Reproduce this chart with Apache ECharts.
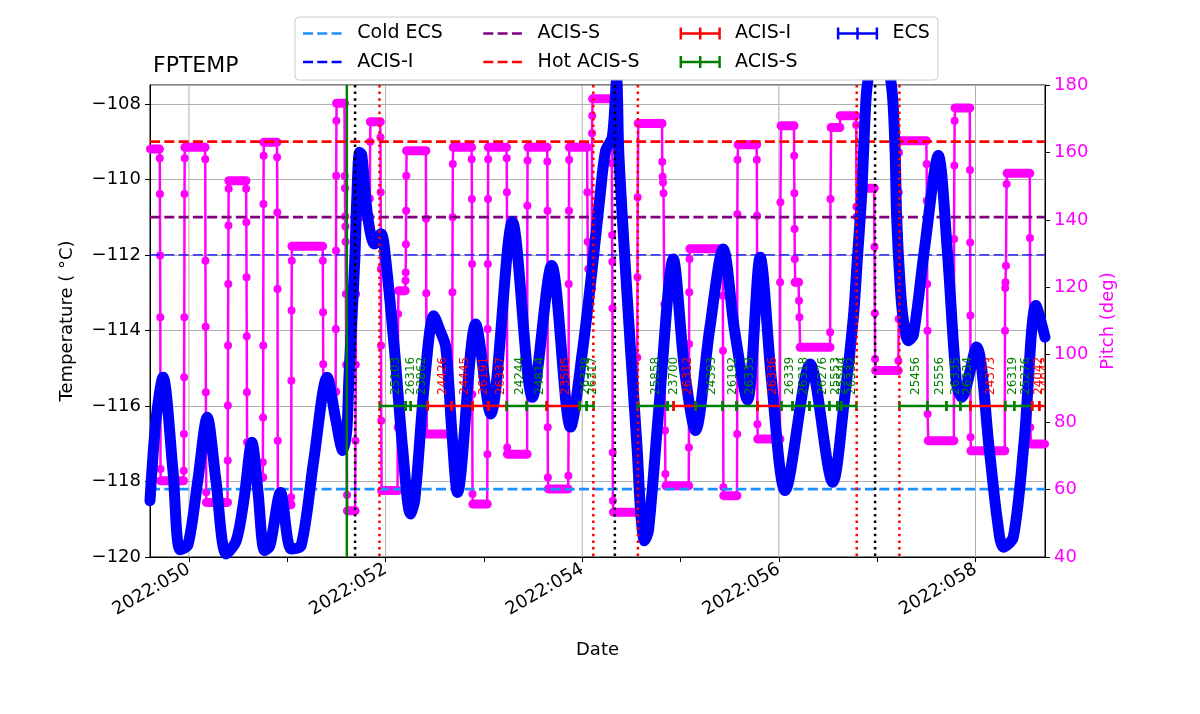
<!DOCTYPE html>
<html><head><meta charset="utf-8">
<script src="https://cdn.jsdelivr.net/npm/echarts@6/dist/echarts.min.js"></script>
<style>html,body{margin:0;padding:0;background:#fff}#c{width:1200px;height:714px}</style>
</head><body><div id="c"></div>
<script>
// ---------------- DATA ----------------
const chartTitle = 'FPTEMP';
const xRange = [49.604, 58.707];            // day of year 2022
const yearLabel = '2022';
const tickDays = [50, 51, 52, 53, 54, 55, 56, 57, 58];
const labelDays = [50, 52, 54, 56, 58];

// FPTEMP (deg C) samples [day, temp]
const tempPoints = [
 [49.604,-118.51],[49.665,-116.37],[49.736,-115.24],[49.837,-117.70],[49.909,-119.81],[49.990,-119.68],
 [50.091,-117.96],[50.186,-116.30],[50.274,-117.96],[50.379,-119.92],[50.481,-119.57],[50.559,-118.49],
 [50.640,-116.96],[50.701,-118.23],[50.769,-119.83],[50.823,-119.71],[50.932,-118.29],[51.040,-119.79],
 [51.141,-119.70],[51.270,-117.43],[51.406,-115.24],[51.494,-116.37],[51.565,-117.18],[51.606,-116.64],
 [51.626,-115.31],[51.657,-113.72],[51.687,-112.13],[51.707,-110.54],[51.735,-109.28],[51.758,-109.35],
 [51.819,-111.00],[51.887,-111.71],[51.954,-111.44],[52.002,-112.13],[52.091,-114.53],[52.175,-117.17],
 [52.253,-118.86],[52.297,-118.49],[52.398,-115.31],[52.490,-113.61],[52.551,-113.99],[52.612,-114.44],
 [52.673,-116.64],[52.731,-118.29],[52.917,-113.83],[53.069,-116.21],[53.290,-111.13],[53.493,-115.77],
 [53.689,-112.28],[53.882,-116.56],[54.004,-114.52],[54.103,-112.33],[54.177,-110.54],[54.238,-109.24],
 [54.306,-108.88],[54.350,-107.36],[54.371,-109.22],[54.408,-111.00],[54.492,-114.53],[54.560,-117.18],
 [54.593,-118.75],[54.634,-119.57],[54.675,-119.28],[54.787,-115.84],[54.926,-112.11],[55.041,-115.05],
 [55.152,-116.65],[55.295,-113.99],[55.434,-111.84],[55.549,-113.99],[55.681,-115.84],[55.810,-112.06],
 [55.925,-115.31],[56.064,-118.24],[56.318,-114.89],[56.548,-118.02],[56.667,-115.84],[56.758,-113.65],
 [56.798,-112.13],[56.843,-110.38],[56.877,-108.35],[56.901,-107.47],[57.023,-105.80],[57.147,-107.56],
 [57.182,-109.24],[57.198,-111.00],[57.233,-112.77],[57.266,-113.72],[57.317,-114.27],[57.368,-114.12],
 [57.480,-111.87],[57.622,-109.37],[57.713,-111.87],[57.808,-115.42],[57.859,-115.77],[58.011,-114.44],
 [58.141,-117.17],[58.222,-119.02],[58.283,-119.74],[58.384,-119.48],[58.496,-116.90],[58.615,-113.34],
 [58.707,-114.18]
];

// Pitch (deg) samples [day, pitch]
const pitchPoints = [
 [49.604,161.0],[49.700,161.0],[49.703,158.3],[49.705,147.7],[49.707,129.4],[49.709,111.1],[49.711,66.1],
 [49.713,62.6],[49.945,62.6],
 [49.947,65.6],[49.949,76.5],[49.951,93.3],[49.953,111.1],[49.955,147.7],[49.957,158.3],
 [49.959,161.5],[50.164,161.5],
 [50.166,158.0],[50.168,127.9],[50.170,108.3],[50.172,88.9],[50.174,71.5],[50.176,59.2],
 [50.178,56.2],[50.392,56.2],
 [50.394,68.6],[50.396,84.9],[50.398,102.7],[50.400,121.0],[50.402,138.3],[50.404,149.2],
 [50.406,151.6],[50.580,151.6],
 [50.582,149.2],[50.584,139.3],[50.586,123.0],[50.588,105.5],[50.590,88.9],[50.592,74.0],
 [50.594,63.6],[50.750,63.6],
 [50.752,68.1],[50.754,81.4],[50.756,102.7],[50.758,144.7],[50.760,159.0],
 [50.762,163.0],[50.895,163.0],
 [50.897,158.6],[50.899,142.2],[50.901,119.5],[50.903,74.5],[50.905,58.7],
 [50.907,55.5],[51.038,55.5],
 [51.040,57.7],[51.042,92.3],[51.044,113.1],[51.046,127.9],
 [51.048,132.2],[51.360,132.2],
 [51.362,127.9],[51.364,112.6],[51.366,97.2],[51.368,91.3],
 [51.370,89.0],[51.492,89.0],
 [51.494,107.6],[51.496,130.8],[51.498,153.1],[51.500,169.4],
 [51.502,174.6],[51.582,174.6],
 [51.585,153.0],[51.587,149.4],[51.589,141.0],[51.591,138.0],[51.593,133.5],[51.596,118.0],[51.600,97.0],[51.604,80.6],[51.608,58.4],
 [51.612,53.7],[51.690,53.7],
 [51.694,74.5],[51.697,97.0],[51.700,118.0],[51.703,137.0],
 [51.706,141.0],[51.836,141.0],
 [51.840,146.3],[51.843,163.2],
 [51.846,169.1],[51.946,169.1],
 [51.948,164.5],[51.950,148.2],[51.952,125.4],[51.954,102.7],[51.956,80.4],
 [51.960,59.7],[52.122,59.7],
 [52.124,78.5],[52.127,112.1],
 [52.132,119.0],[52.200,119.0],
 [52.203,122.0],[52.205,124.4],[52.207,132.8],[52.209,142.7],[52.211,153.1],
 [52.214,160.5],[52.410,160.5],
 [52.412,140.3],[52.414,118.2],
 [52.420,76.5],[52.676,76.5],
 [52.680,118.5],[52.682,140.8],[52.684,156.6],
 [52.688,161.5],[52.874,161.5],
 [52.876,158.0],[52.878,146.2],[52.880,126.9],[52.882,88.3],[52.884,58.7],
 [52.888,55.7],[53.034,55.7],
 [53.036,70.5],[53.038,107.6],[53.040,126.9],[53.042,146.2],[53.044,158.0],
 [53.046,161.5],[53.230,161.5],
 [53.232,158.3],[53.234,148.2],[53.237,72.5],
 [53.240,70.5],[53.440,70.5],
 [53.442,144.2],[53.444,157.6],
 [53.448,161.5],[53.643,161.5],
 [53.645,157.3],[53.647,142.7],[53.649,78.5],[53.651,63.6],
 [53.655,60.2],[53.857,60.2],
 [53.859,64.1],[53.861,78.5],[53.863,121.0],[53.865,142.7],[53.867,157.8],
 [53.869,161.5],[54.050,161.5],
 [54.052,148.2],[54.056,133.5],[54.062,125.4],
 [54.080,119.5],[54.094,119.5],
 [54.096,123.0],[54.098,126.1],[54.100,165.7],[54.102,170.9],
 [54.106,175.9],[54.300,175.9],
 [54.302,156.8],[54.304,135.5],[54.306,127.6],[54.308,113.8],[54.310,71.0],[54.312,56.7],
 [54.318,53.3],[54.556,53.3],
 [54.560,99.2],[54.562,123.0],[54.564,146.7],
 [54.570,168.6],[54.812,168.6],
 [54.814,157.2],[54.818,152.8],[54.822,151.1],[54.827,147.9],[54.835,115.0],[54.838,103.2],[54.842,77.5],[54.846,64.6],
 [54.852,61.1],[55.083,61.1],
 [55.085,72.5],[55.087,103.2],[55.089,118.5],[55.091,128.4],
 [55.095,131.4],[55.428,131.4],
 [55.430,117.5],[55.432,101.2],[55.436,60.7],
 [55.440,58.2],[55.574,58.2],
 [55.576,76.5],[55.578,141.7],[55.580,157.8],
 [55.586,162.3],[55.774,162.3],
 [55.776,157.8],[55.778,141.2],[55.782,79.4],
 [55.786,75.0],[56.011,75.0],
 [56.013,121.5],[56.016,145.2],
 [56.023,167.9],[56.154,167.9],
 [56.156,159.0],[56.158,147.9],[56.160,137.3],[56.162,128.4],
 [56.166,121.5],[56.200,121.5],
 [56.205,116.0],[56.209,111.1],
 [56.217,102.2],[56.520,102.2],
 [56.522,106.7],[56.525,146.2],
 [56.532,167.4],[56.620,167.4],
 [56.625,170.9],[56.784,170.9],
 [56.787,168.1],[56.789,143.9],[56.792,141.0],
 [56.840,149.4],[56.970,149.4],
 [56.973,132.0],[56.976,112.3],[56.979,98.7],
 [56.985,95.3],[57.214,95.3],
 [57.216,98.2],[57.218,110.6],[57.220,148.2],[57.222,160.0],
 [57.226,163.5],[57.500,163.5],
 [57.503,156.6],[57.505,145.7],[57.507,134.3],[57.509,121.0],[57.511,107.1],[57.513,82.4],
 [57.520,74.5],[57.780,74.5],
 [57.782,134.3],[57.785,156.1],[57.788,169.4],
 [57.792,173.2],[57.942,173.2],
 [57.944,154.8],[57.946,133.3],[57.948,111.6],[57.950,75.5],
 [57.954,71.5],[58.298,71.5],
 [58.300,107.1],[58.302,119.8],[58.305,121.5],[58.310,126.4],[58.316,150.6],
 [58.322,153.8],[58.552,153.8],
 [58.554,134.6],[58.557,78.5],
 [58.566,73.5],[58.707,73.5]
];

// Temperature limits
const limitNames  = ['Cold ECS', 'ACIS-I', 'ACIS-S', 'Hot ACIS-S'];
const limitValues = [-118.2, -112.0, -111.0, -109.0];

// Event times (day)
const eventGreen = [51.606];
const eventBlack = [51.690, 54.332, 56.979];
const eventRed   = [51.938, 54.113, 54.566, 56.792, 57.226];

// Observations
const obsLevel = -116;
const obsStart = [51.941,52.205,52.256,52.429,52.673,52.886,53.049,53.232,53.435,53.638,53.974,54.045,
                  54.563,54.868,54.929,55.152,55.427,55.569,55.783,56.027,56.139,56.311,56.514,56.595,56.636,
                  57.226,57.510,57.704,57.846,57.947,58.303,58.394,58.577,58.649];
const obsStop  = [52.205,52.256,52.429,52.673,52.886,53.049,53.232,53.435,53.638,53.974,54.045,54.116,
                  54.868,54.929,55.152,55.427,55.569,55.783,56.027,56.139,56.311,56.514,56.595,56.636,56.789,
                  57.510,57.704,57.846,57.947,58.303,58.394,58.577,58.649,58.730];
const obsId    = ['25103','26316','23862','24426','24445','26191','26337','24244','24814','23585','26338','26317',
                  '25858','23700','26312','24393','26192','26333','26336','26339','26318','26276','25553','25544','26332',
                  '25456','25556','26335','26334','24373','26319','25276','24042','24043'];
const obsInst  = ['ACIS-S','ACIS-S','ACIS-S','ACIS-I','ACIS-I','ACIS-I','ACIS-I','ACIS-S','ACIS-S','ACIS-I','ACIS-S','ACIS-S',
                  'ACIS-S','ACIS-S','ACIS-I','ACIS-S','ACIS-S','ACIS-S','ACIS-I','ACIS-S','ACIS-S','ACIS-S','ACIS-S','ACIS-S','ACIS-S',
                  'ACIS-S','ACIS-S','ACIS-S','ACIS-S','ACIS-I','ACIS-S','ACIS-S','ACIS-I','ACIS-I'];
const ecsName = 'ECS';

// ---------------- STYLE ----------------
const FONT = '"DejaVu Sans", sans-serif';
const MAGENTA = '#ff00ff', BLUE = '#0000ff', RED = '#ff0000', GREEN = '#008000';
const limitColors = ['#1e90ff', '#0000ff', '#800080', '#ff0000'];
const limitWidths = [2.7, 1.3, 2.7, 2.7];
const instColor = {'ACIS-I': RED, 'ACIS-S': GREEN};
const GRID = {left:150, top:85, width:895, height:472};

// plateau segments of the pitch (consecutive equal values)
const plateaus = [];
for (let i = 0; i + 1 < pitchPoints.length; i++) {
  if (pitchPoints[i][1] === pitchPoints[i+1][1]) plateaus.push([pitchPoints[i][0], pitchPoints[i+1][0], pitchPoints[i][1]]);
}

function vLineSeries(times, color, width, dash, z) {
  return {
    type: 'custom', xAxisIndex: 0, yAxisIndex: 0, z: z, silent: true, clip: true,
    data: times.map(t => [t, obsLevel]), encode: {x: 0, y: 1},
    renderItem(params, api) {
      const cs = params.coordSys;
      const x = api.coord([api.value(0), obsLevel])[0];
      return {type: 'line', shape: {x1: x, y1: cs.y, x2: x, y2: cs.y + cs.height},
              style: {stroke: color, lineWidth: width, lineDash: dash}};
    }
  };
}

const series = [
  vLineSeries(labelDays, '#b0b0b0', 1, null, 1),
  {
    type: 'custom', xAxisIndex: 0, yAxisIndex: 1, z: 2, silent: true, clip: true,
    data: plateaus, encode: {x: [0, 1], y: 2},
    renderItem(params, api) {
      const a = api.coord([api.value(0), api.value(2)]);
      const b = api.coord([api.value(1), api.value(2)]);
      return {type: 'line', shape: {x1: a[0], y1: a[1], x2: b[0], y2: b[1]},
              style: {stroke: MAGENTA, lineWidth: 9, lineCap: 'round'}};
    }
  },
  {
    type: 'line', xAxisIndex: 0, yAxisIndex: 1, z: 3, silent: true,
    data: pitchPoints, symbol: 'circle', symbolSize: 8, showSymbol: true,
    lineStyle: {color: MAGENTA, width: 2.5}, itemStyle: {color: MAGENTA}
  },
  {
    type: 'custom', xAxisIndex: 0, yAxisIndex: 0, z: 4, silent: true, clip: true,
    data: limitValues.map((v, i) => [xRange[0], v, i]), encode: {x: 0, y: 1},
    renderItem(params, api) {
      const cs = params.coordSys;
      const i = api.value(2);
      const y = api.coord([xRange[0], api.value(1)])[1];
      return {type: 'line', shape: {x1: cs.x, y1: y, x2: cs.x + cs.width, y2: y},
              style: {stroke: limitColors[i], lineWidth: limitWidths[i], lineDash: [10, 4.3]}};
    }
  },
  {
    type: 'line', xAxisIndex: 0, yAxisIndex: 0, z: 5, silent: true,
    data: tempPoints, symbol: 'none', smooth: 0.3,
    lineStyle: {color: BLUE, width: 11, cap: 'round', join: 'round'}
  },
  {
    type: 'custom', xAxisIndex: 0, yAxisIndex: 0, z: 6, silent: true, clip: true,
    data: obsStart.map((s, i) => [s, obsStop[i], i, obsLevel]), encode: {x: [0, 1], y: 3},
    renderItem(params, api) {
      const i = api.value(2);
      const a = api.coord([api.value(0), obsLevel]);
      const b = api.coord([api.value(1), obsLevel]);
      const col = instColor[obsInst[i]];
      const mid = (a[0] + b[0]) / 2;
      return {type: 'group', children: [
        {type: 'line', shape: {x1: a[0], y1: a[1], x2: b[0], y2: b[1]}, style: {stroke: col, lineWidth: 2.5}},
        {type: 'line', shape: {x1: a[0], y1: a[1] - 5, x2: a[0], y2: a[1] + 5}, style: {stroke: col, lineWidth: 2.5}},
        {type: 'line', shape: {x1: b[0], y1: b[1] - 5, x2: b[0], y2: b[1] + 5}, style: {stroke: col, lineWidth: 2.5}},
        {type: 'text', x: mid + 3, y: a[1] - 11, rotation: Math.PI / 2,
         style: {text: obsId[i], fill: col, font: '12px ' + FONT, align: 'left', verticalAlign: 'middle'}}
      ]};
    }
  },
  vLineSeries(eventGreen, GREEN, 2.5, null, 7),
  vLineSeries(eventBlack, '#000000', 2.5, [2.5, 4.1], 7),
  vLineSeries(eventRed, RED, 2.5, [2.5, 4.1], 7)
];

const legendItems = [
  {label: limitNames[0], kind: 'dash', color: limitColors[0], col: 0, row: 0},
  {label: limitNames[1], kind: 'dash', color: limitColors[1], col: 0, row: 1},
  {label: limitNames[2], kind: 'dash', color: limitColors[2], col: 1, row: 0},
  {label: limitNames[3], kind: 'dash', color: limitColors[3], col: 1, row: 1},
  {label: 'ACIS-I', kind: 'err', color: RED, col: 2, row: 0},
  {label: 'ACIS-S', kind: 'err', color: GREEN, col: 2, row: 1},
  {label: ecsName, kind: 'err', color: BLUE, col: 3, row: 0}
];
const legCols = [303, 483.3, 680.8, 838.1];
const legRows = [33.5, 62];
const HL = 38.8;
const graphic = [{type: 'rect', shape: {x: 295, y: 17, width: 643, height: 63, r: 4},
                  style: {fill: 'rgba(255,255,255,0.8)', stroke: '#cccccc', lineWidth: 1}, z: 100}];
legendItems.forEach(it => {
  const x0 = legCols[it.col], y = legRows[it.row];
  if (it.kind === 'dash') {
    graphic.push({type: 'line', shape: {x1: x0, y1: y, x2: x0 + HL, y2: y},
                  style: {stroke: it.color, lineWidth: 2.7, lineDash: [10, 4.3]}, z: 101});
  } else {
    graphic.push({type: 'line', shape: {x1: x0, y1: y, x2: x0 + HL, y2: y}, style: {stroke: it.color, lineWidth: 2.5}, z: 101});
    [0, HL / 2, HL].forEach(dx => graphic.push({type: 'line', shape: {x1: x0 + dx, y1: y - 6, x2: x0 + dx, y2: y + 6},
                  style: {stroke: it.color, lineWidth: 2.5}, z: 101}));
  }
  graphic.push({type: 'text', x: x0 + HL + 15.5, y: y,
                style: {text: it.label, fill: '#000', font: '19px ' + FONT, verticalAlign: 'middle', align: 'left'}, z: 101});
});

const chart = echarts.init(document.getElementById('c'), null, {renderer: 'canvas'});
chart.setOption({
  animation: false,
  backgroundColor: '#ffffff',
  textStyle: {fontFamily: FONT},
  title: {text: chartTitle, left: 148, top: 50, textStyle: {fontSize: 22, fontWeight: 'normal', color: '#000', fontFamily: FONT}},
  grid: Object.assign({show: true, borderColor: '#000', borderWidth: 1, backgroundColor: 'transparent'}, GRID),
  xAxis: {
    type: 'value', min: xRange[0], max: xRange[1],
    name: 'Date', nameLocation: 'middle', nameGap: 84,
    nameTextStyle: {fontSize: 18, color: '#000', fontFamily: FONT},
    axisLine: {show: true, lineStyle: {color: '#000', width: 1}},
    axisTick: {show: true, customValues: tickDays, length: 5, lineStyle: {color: '#000'}},
    axisLabel: {customValues: labelDays, rotate: 30, fontSize: 18, color: '#000', margin: 11, fontFamily: FONT,
                formatter: v => yearLabel + ':' + String(Math.round(v)).padStart(3, '0')},
    splitLine: {show: false}
  },
  yAxis: [
    {
      type: 'value', min: -120, max: -107.5, interval: 2, position: 'left',
      name: 'Temperature ( °C)', nameLocation: 'middle', nameGap: 74, nameRotate: 90,
      nameTextStyle: {fontSize: 18, color: '#000', fontFamily: FONT},
      axisLine: {show: true, lineStyle: {color: '#000'}},
      axisTick: {show: true, length: 5, lineStyle: {color: '#000'}},
      axisLabel: {fontSize: 18, color: '#000', margin: 9, showMaxLabel: false, fontFamily: FONT,
                  formatter: v => String(v).replace('-', '\u2212')},
      splitLine: {show: true, lineStyle: {color: '#b0b0b0', width: 1}}
    },
    {
      type: 'value', min: 40, max: 180, interval: 20, position: 'right',
      name: 'Pitch (deg)', nameLocation: 'middle', nameGap: 52, nameRotate: 90,
      nameTextStyle: {fontSize: 18, color: MAGENTA, fontFamily: FONT},
      axisLine: {show: true, lineStyle: {color: '#000'}},
      axisTick: {show: true, length: 5, lineStyle: {color: '#000'}},
      axisLabel: {fontSize: 18, color: MAGENTA, margin: 9, fontFamily: FONT},
      splitLine: {show: false}
    }
  ],
  graphic: graphic,
  series: series
});
</script>
</body></html>
